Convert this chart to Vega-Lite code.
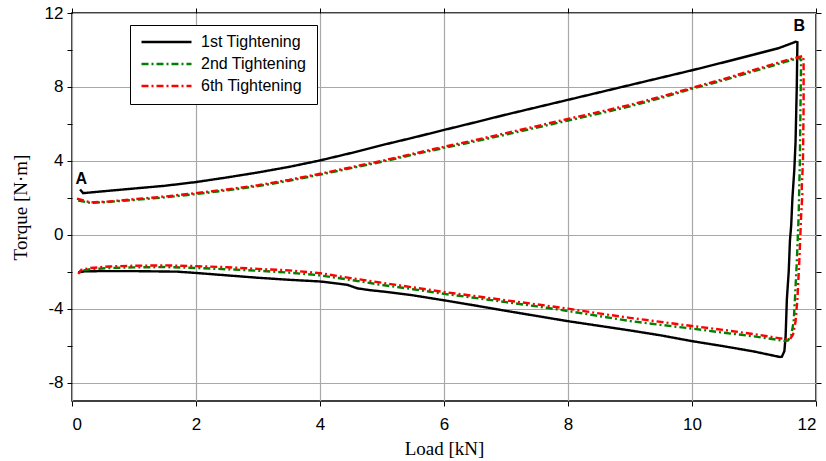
{
  "$schema": "https://vega.github.io/schema/vega-lite/v6.json",
  "width": 744,
  "height": 388,
  "autosize": "none",
  "padding": {"left": 72, "top": 13, "right": 10, "bottom": 60},
  "background": "white",
  "config": {
    "view": {"stroke": "black", "strokeWidth": 1.5},
    "font": "Liberation Sans",
    "axis": {"domain": false, "labelColor": "black", "tickColor": "black", "titleColor": "black", "gridColor": "#a8a8a8", "gridWidth": 1.2}
  },
  "resolve": {"axis": {"x": "independent", "y": "independent"}},
  "layer": [
    {
      "data": {
        "values": [
          {"s": "1st Tightening", "x": 0.13, "y": 2.45},
          {"s": "1st Tightening", "x": 0.18, "y": 2.25},
          {"s": "1st Tightening", "x": 0.5, "y": 2.35},
          {"s": "1st Tightening", "x": 1, "y": 2.5},
          {"s": "1st Tightening", "x": 1.5, "y": 2.65},
          {"s": "1st Tightening", "x": 2, "y": 2.85},
          {"s": "1st Tightening", "x": 2.5, "y": 3.1},
          {"s": "1st Tightening", "x": 3, "y": 3.37},
          {"s": "1st Tightening", "x": 3.5, "y": 3.67},
          {"s": "1st Tightening", "x": 4, "y": 4.02},
          {"s": "1st Tightening", "x": 4.5, "y": 4.42},
          {"s": "1st Tightening", "x": 5, "y": 4.85},
          {"s": "1st Tightening", "x": 5.5, "y": 5.25},
          {"s": "1st Tightening", "x": 6, "y": 5.67},
          {"s": "1st Tightening", "x": 6.5, "y": 6.08},
          {"s": "1st Tightening", "x": 7, "y": 6.5},
          {"s": "1st Tightening", "x": 7.5, "y": 6.9},
          {"s": "1st Tightening", "x": 8, "y": 7.3},
          {"s": "1st Tightening", "x": 8.5, "y": 7.7},
          {"s": "1st Tightening", "x": 9, "y": 8.1},
          {"s": "1st Tightening", "x": 9.5, "y": 8.5},
          {"s": "1st Tightening", "x": 10, "y": 8.9},
          {"s": "1st Tightening", "x": 10.5, "y": 9.32},
          {"s": "1st Tightening", "x": 11, "y": 9.75},
          {"s": "1st Tightening", "x": 11.4, "y": 10.1},
          {"s": "1st Tightening", "x": 11.67, "y": 10.44},
          {"s": "1st Tightening", "x": 11.7, "y": 10.42},
          {"s": "1st Tightening", "x": 11.69, "y": 8},
          {"s": "1st Tightening", "x": 11.67, "y": 5},
          {"s": "1st Tightening", "x": 11.65, "y": 3.5},
          {"s": "1st Tightening", "x": 11.62, "y": 2.0},
          {"s": "1st Tightening", "x": 11.6, "y": 0.5},
          {"s": "1st Tightening", "x": 11.58, "y": -0.3},
          {"s": "1st Tightening", "x": 11.56, "y": -2},
          {"s": "1st Tightening", "x": 11.53, "y": -3.5},
          {"s": "1st Tightening", "x": 11.51, "y": -5.5},
          {"s": "1st Tightening", "x": 11.49, "y": -6.3},
          {"s": "1st Tightening", "x": 11.45, "y": -6.6},
          {"s": "1st Tightening", "x": 11.42, "y": -6.62},
          {"s": "1st Tightening", "x": 11, "y": -6.32},
          {"s": "1st Tightening", "x": 10.5, "y": -6.03},
          {"s": "1st Tightening", "x": 10, "y": -5.76},
          {"s": "1st Tightening", "x": 9.5, "y": -5.45},
          {"s": "1st Tightening", "x": 9, "y": -5.18},
          {"s": "1st Tightening", "x": 8.5, "y": -4.93},
          {"s": "1st Tightening", "x": 8, "y": -4.68},
          {"s": "1st Tightening", "x": 7.5, "y": -4.4},
          {"s": "1st Tightening", "x": 7, "y": -4.12},
          {"s": "1st Tightening", "x": 6.5, "y": -3.83},
          {"s": "1st Tightening", "x": 6, "y": -3.55},
          {"s": "1st Tightening", "x": 5.5, "y": -3.28},
          {"s": "1st Tightening", "x": 5, "y": -3.07},
          {"s": "1st Tightening", "x": 4.8, "y": -3.0},
          {"s": "1st Tightening", "x": 4.6, "y": -2.9},
          {"s": "1st Tightening", "x": 4.45, "y": -2.72},
          {"s": "1st Tightening", "x": 4.3, "y": -2.65},
          {"s": "1st Tightening", "x": 4, "y": -2.53},
          {"s": "1st Tightening", "x": 3.5, "y": -2.44},
          {"s": "1st Tightening", "x": 3, "y": -2.33},
          {"s": "1st Tightening", "x": 2.5, "y": -2.2},
          {"s": "1st Tightening", "x": 2, "y": -2.07},
          {"s": "1st Tightening", "x": 1.7, "y": -2.0},
          {"s": "1st Tightening", "x": 1, "y": -1.97},
          {"s": "1st Tightening", "x": 0.5, "y": -1.97},
          {"s": "1st Tightening", "x": 0.2, "y": -1.98},
          {"s": "1st Tightening", "x": 0.1, "y": -2.05},

          {"s": "2nd Tightening", "x": 0.1, "y": 1.85},
          {"s": "2nd Tightening", "x": 0.3, "y": 1.72},
          {"s": "2nd Tightening", "x": 0.6, "y": 1.78},
          {"s": "2nd Tightening", "x": 1, "y": 1.88},
          {"s": "2nd Tightening", "x": 1.5, "y": 2.02},
          {"s": "2nd Tightening", "x": 2, "y": 2.2},
          {"s": "2nd Tightening", "x": 2.5, "y": 2.4},
          {"s": "2nd Tightening", "x": 3, "y": 2.63},
          {"s": "2nd Tightening", "x": 3.5, "y": 2.92},
          {"s": "2nd Tightening", "x": 4, "y": 3.25},
          {"s": "2nd Tightening", "x": 4.5, "y": 3.6},
          {"s": "2nd Tightening", "x": 5, "y": 3.95},
          {"s": "2nd Tightening", "x": 5.5, "y": 4.33},
          {"s": "2nd Tightening", "x": 6, "y": 4.7},
          {"s": "2nd Tightening", "x": 6.5, "y": 5.05},
          {"s": "2nd Tightening", "x": 7, "y": 5.42},
          {"s": "2nd Tightening", "x": 7.5, "y": 5.8},
          {"s": "2nd Tightening", "x": 8, "y": 6.18},
          {"s": "2nd Tightening", "x": 8.5, "y": 6.55},
          {"s": "2nd Tightening", "x": 9, "y": 6.95},
          {"s": "2nd Tightening", "x": 9.5, "y": 7.4},
          {"s": "2nd Tightening", "x": 10, "y": 7.9},
          {"s": "2nd Tightening", "x": 10.5, "y": 8.35},
          {"s": "2nd Tightening", "x": 11, "y": 8.85},
          {"s": "2nd Tightening", "x": 11.5, "y": 9.35},
          {"s": "2nd Tightening", "x": 11.74, "y": 9.58},
          {"s": "2nd Tightening", "x": 11.76, "y": 9.4},
          {"s": "2nd Tightening", "x": 11.75, "y": 7},
          {"s": "2nd Tightening", "x": 11.74, "y": 4},
          {"s": "2nd Tightening", "x": 11.72, "y": 1},
          {"s": "2nd Tightening", "x": 11.69, "y": -1.5},
          {"s": "2nd Tightening", "x": 11.66, "y": -3.5},
          {"s": "2nd Tightening", "x": 11.64, "y": -4.7},
          {"s": "2nd Tightening", "x": 11.6, "y": -5.45},
          {"s": "2nd Tightening", "x": 11.55, "y": -5.72},
          {"s": "2nd Tightening", "x": 11.5, "y": -5.75},
          {"s": "2nd Tightening", "x": 11, "y": -5.5},
          {"s": "2nd Tightening", "x": 10.5, "y": -5.3},
          {"s": "2nd Tightening", "x": 10, "y": -5.08},
          {"s": "2nd Tightening", "x": 9.5, "y": -4.88},
          {"s": "2nd Tightening", "x": 9, "y": -4.67},
          {"s": "2nd Tightening", "x": 8.5, "y": -4.4},
          {"s": "2nd Tightening", "x": 8, "y": -4.13},
          {"s": "2nd Tightening", "x": 7.5, "y": -3.88},
          {"s": "2nd Tightening", "x": 7, "y": -3.65},
          {"s": "2nd Tightening", "x": 6.5, "y": -3.42},
          {"s": "2nd Tightening", "x": 6, "y": -3.2},
          {"s": "2nd Tightening", "x": 5.5, "y": -2.95},
          {"s": "2nd Tightening", "x": 5, "y": -2.72},
          {"s": "2nd Tightening", "x": 4.5, "y": -2.45},
          {"s": "2nd Tightening", "x": 4, "y": -2.2},
          {"s": "2nd Tightening", "x": 3.5, "y": -2.05},
          {"s": "2nd Tightening", "x": 3, "y": -1.95},
          {"s": "2nd Tightening", "x": 2.5, "y": -1.87},
          {"s": "2nd Tightening", "x": 2, "y": -1.8},
          {"s": "2nd Tightening", "x": 1.5, "y": -1.75},
          {"s": "2nd Tightening", "x": 1, "y": -1.77},
          {"s": "2nd Tightening", "x": 0.6, "y": -1.8},
          {"s": "2nd Tightening", "x": 0.3, "y": -1.87},
          {"s": "2nd Tightening", "x": 0.15, "y": -1.95},
          {"s": "2nd Tightening", "x": 0.1, "y": -2.05},

          {"s": "6th Tightening", "x": 0.08, "y": 1.95},
          {"s": "6th Tightening", "x": 0.3, "y": 1.75},
          {"s": "6th Tightening", "x": 0.6, "y": 1.8},
          {"s": "6th Tightening", "x": 1, "y": 1.92},
          {"s": "6th Tightening", "x": 1.5, "y": 2.07},
          {"s": "6th Tightening", "x": 2, "y": 2.25},
          {"s": "6th Tightening", "x": 2.5, "y": 2.45},
          {"s": "6th Tightening", "x": 3, "y": 2.68},
          {"s": "6th Tightening", "x": 3.5, "y": 2.97},
          {"s": "6th Tightening", "x": 4, "y": 3.3},
          {"s": "6th Tightening", "x": 4.5, "y": 3.65},
          {"s": "6th Tightening", "x": 5, "y": 4.0},
          {"s": "6th Tightening", "x": 5.5, "y": 4.38},
          {"s": "6th Tightening", "x": 6, "y": 4.76},
          {"s": "6th Tightening", "x": 6.5, "y": 5.12},
          {"s": "6th Tightening", "x": 7, "y": 5.5},
          {"s": "6th Tightening", "x": 7.5, "y": 5.88},
          {"s": "6th Tightening", "x": 8, "y": 6.27},
          {"s": "6th Tightening", "x": 8.5, "y": 6.64},
          {"s": "6th Tightening", "x": 9, "y": 7.03},
          {"s": "6th Tightening", "x": 9.5, "y": 7.47},
          {"s": "6th Tightening", "x": 10, "y": 7.95},
          {"s": "6th Tightening", "x": 10.5, "y": 8.42},
          {"s": "6th Tightening", "x": 11, "y": 8.92},
          {"s": "6th Tightening", "x": 11.5, "y": 9.42},
          {"s": "6th Tightening", "x": 11.79, "y": 9.67},
          {"s": "6th Tightening", "x": 11.8, "y": 9.4},
          {"s": "6th Tightening", "x": 11.8, "y": 7},
          {"s": "6th Tightening", "x": 11.79, "y": 4},
          {"s": "6th Tightening", "x": 11.77, "y": 2.5},
          {"s": "6th Tightening", "x": 11.78, "y": 2.2},
          {"s": "6th Tightening", "x": 11.76, "y": 1},
          {"s": "6th Tightening", "x": 11.73, "y": -1.5},
          {"s": "6th Tightening", "x": 11.7, "y": -3.5},
          {"s": "6th Tightening", "x": 11.67, "y": -4.7},
          {"s": "6th Tightening", "x": 11.63, "y": -5.4},
          {"s": "6th Tightening", "x": 11.58, "y": -5.65},
          {"s": "6th Tightening", "x": 11.5, "y": -5.65},
          {"s": "6th Tightening", "x": 11, "y": -5.38},
          {"s": "6th Tightening", "x": 10.5, "y": -5.15},
          {"s": "6th Tightening", "x": 10, "y": -4.94},
          {"s": "6th Tightening", "x": 9.5, "y": -4.72},
          {"s": "6th Tightening", "x": 9, "y": -4.5},
          {"s": "6th Tightening", "x": 8.5, "y": -4.26},
          {"s": "6th Tightening", "x": 8, "y": -4.0},
          {"s": "6th Tightening", "x": 7.5, "y": -3.77},
          {"s": "6th Tightening", "x": 7, "y": -3.55},
          {"s": "6th Tightening", "x": 6.5, "y": -3.32},
          {"s": "6th Tightening", "x": 6, "y": -3.1},
          {"s": "6th Tightening", "x": 5.5, "y": -2.85},
          {"s": "6th Tightening", "x": 5, "y": -2.6},
          {"s": "6th Tightening", "x": 4.5, "y": -2.35},
          {"s": "6th Tightening", "x": 4, "y": -2.08},
          {"s": "6th Tightening", "x": 3.5, "y": -1.93},
          {"s": "6th Tightening", "x": 3, "y": -1.85},
          {"s": "6th Tightening", "x": 2.5, "y": -1.76},
          {"s": "6th Tightening", "x": 2, "y": -1.7},
          {"s": "6th Tightening", "x": 1.5, "y": -1.66},
          {"s": "6th Tightening", "x": 1, "y": -1.68},
          {"s": "6th Tightening", "x": 0.6, "y": -1.72},
          {"s": "6th Tightening", "x": 0.3, "y": -1.8},
          {"s": "6th Tightening", "x": 0.15, "y": -1.9},
          {"s": "6th Tightening", "x": 0.1, "y": -2.12}
        ]
      },
      "mark": {"type": "line", "strokeWidth": 2.4},
      "encoding": {
        "x": {
          "field": "x", "type": "quantitative",
          "scale": {"domain": [0, 12], "nice": false},
          "axis": {
            "orient": "bottom",
            "values": [0, 2, 4, 6, 8, 10, 12], "grid": true, "tickSize": 5,
            "labelFontSize": 17, "labelPadding": 10,
            "title": "Load [kN]", "titleFont": "Liberation Serif", "titleFontSize": 19,
            "titleFontWeight": "normal", "titlePadding": 7
          }
        },
        "y": {
          "field": "y", "type": "quantitative",
          "scale": {"domain": [-9, 12], "nice": false},
          "axis": {
            "orient": "left",
            "values": [-8, -6, -4, -2, 0, 2, 4, 6, 8, 10, 12], "tickSize": 5,
            "labelExpr": "datum.value % 4 == 0 ? '' + datum.value : ''",
            "grid": true,
            "gridOpacity": {"condition": {"test": "datum.value % 4 == 0", "value": 1}, "value": 0},
            "labelFontSize": 17, "labelPadding": 4,
            "title": "Torque [N·m]", "titleFont": "Liberation Serif", "titleFontSize": 19,
            "titleFontWeight": "normal", "titlePadding": 14
          }
        },
        "color": {
          "field": "s", "type": "nominal",
          "scale": {"domain": ["1st Tightening", "2nd Tightening", "6th Tightening"], "range": ["#000000", "#008000", "#ff0000"]},
          "legend": {
            "orient": "none", "legendX": 58, "legendY": 12, "title": null,
            "strokeColor": "black", "fillColor": "white", "padding": 10,
            "labelFontSize": 16, "labelColor": "black", "symbolSize": 2500, "symbolType": "stroke",
            "symbolStrokeWidth": 2.4, "clipHeight": 14, "rowPadding": 6, "labelOffset": 8
          }
        },
        "strokeDash": {
          "field": "s", "type": "nominal",
          "scale": {"domain": ["1st Tightening", "2nd Tightening", "6th Tightening"], "range": [[1, 0], [7, 3, 2, 3], [7, 3, 2, 3]]},
          "legend": {
            "orient": "none", "legendX": 58, "legendY": 12, "title": null,
            "strokeColor": "black", "fillColor": "white", "padding": 10,
            "labelFontSize": 16, "labelColor": "black", "symbolSize": 2500, "symbolType": "stroke",
            "symbolStrokeWidth": 2.4, "clipHeight": 14, "rowPadding": 6, "labelOffset": 8
          }
        },
        "order": {"value": null}
      }
    },
    {
      "data": {"values": [{"t": "A", "x": 0.15, "y": 2.99}, {"t": "B", "x": 11.73, "y": 11.29}]},
      "mark": {"type": "text", "fontWeight": "bold", "fontSize": 16, "font": "Liberation Sans", "color": "black"},
      "encoding": {
        "x": {"field": "x", "type": "quantitative", "axis": {"orient": "top", "values": [0, 2, 4, 6, 8, 10, 12], "labels": false, "grid": false, "tickSize": 5, "title": null}},
        "y": {"field": "y", "type": "quantitative", "axis": {"orient": "right", "values": [-8, -6, -4, -2, 0, 2, 4, 6, 8, 10, 12], "labels": false, "grid": false, "tickSize": 5, "title": null}},
        "text": {"field": "t"}
      }
    }
  ]
}
